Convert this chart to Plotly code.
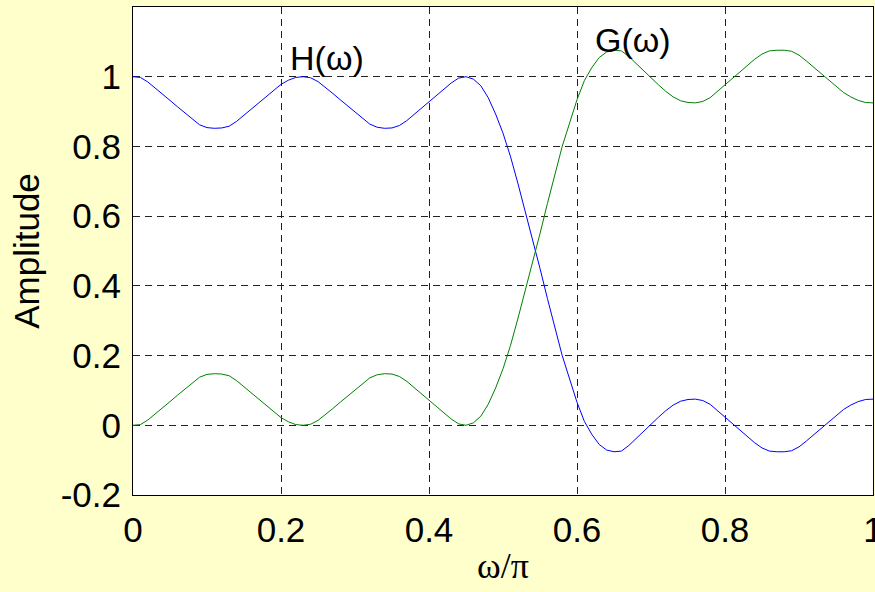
import plotly.graph_objects as go

# frequency axis (omega/pi)
w = [i / 100 for i in range(101)]

# H(omega)
H = [1.000, 0.998, 0.985, 0.968, 0.950, 0.932, 0.914, 0.896, 0.878, 0.862,
     0.854, 0.852, 0.853, 0.858, 0.872, 0.890, 0.908, 0.926, 0.944, 0.962,
     0.978, 0.990, 0.998, 1.000, 0.997, 0.986, 0.970, 0.952, 0.934, 0.916,
     0.898, 0.880, 0.864, 0.855, 0.852, 0.853, 0.860, 0.874, 0.892, 0.910,
     0.928, 0.946, 0.964, 0.982, 0.996, 1.000, 0.993, 0.974, 0.940, 0.893,
     0.838, 0.772, 0.695, 0.616, 0.537, 0.450, 0.364, 0.280, 0.200, 0.133,
     0.066, 0.011, -0.026, -0.055, -0.071, -0.076, -0.074, -0.058, -0.037, -0.016,
     0.004, 0.023, 0.042, 0.058, 0.069, 0.074, 0.075, 0.071, 0.060, 0.042,
     0.024, 0.006, -0.012, -0.031, -0.050, -0.065, -0.074, -0.076, -0.076, -0.073,
     -0.062, -0.045, -0.027, -0.008, 0.011, 0.029, 0.045, 0.058, 0.068, 0.074,
     0.075]

# G(omega)
G = [0.000, 0.002, 0.015, 0.032, 0.050, 0.068, 0.086, 0.104, 0.122, 0.138,
     0.146, 0.148, 0.147, 0.142, 0.128, 0.110, 0.092, 0.074, 0.056, 0.038,
     0.022, 0.010, 0.002, 0.000, 0.003, 0.014, 0.030, 0.048, 0.066, 0.084,
     0.102, 0.120, 0.136, 0.145, 0.148, 0.147, 0.140, 0.126, 0.108, 0.090,
     0.072, 0.054, 0.036, 0.018, 0.004, 0.000, 0.007, 0.026, 0.060, 0.107,
     0.162, 0.228, 0.305, 0.384, 0.463, 0.550, 0.636, 0.720, 0.800, 0.867,
     0.934, 0.989, 1.026, 1.055, 1.071, 1.076, 1.074, 1.058, 1.037, 1.016,
     0.996, 0.977, 0.958, 0.942, 0.931, 0.926, 0.925, 0.929, 0.940, 0.958,
     0.976, 0.994, 1.012, 1.031, 1.050, 1.065, 1.074, 1.076, 1.076, 1.073,
     1.062, 1.045, 1.027, 1.008, 0.989, 0.971, 0.955, 0.942, 0.932, 0.926,
     0.925]

x_ticks = [0, 0.2, 0.4, 0.6, 0.8, 1]
x_labels = ["0", "0.2", "0.4", "0.6", "0.8", "1"]
y_ticks = [-0.2, 0, 0.2, 0.4, 0.6, 0.8, 1]
y_labels = ["-0.2", "0", "0.2", "0.4", "0.6", "0.8", "1"]

fig = go.Figure()
fig.add_trace(go.Scatter(x=w, y=H, mode="lines", line=dict(color="#0000FF", width=1), showlegend=False))
fig.add_trace(go.Scatter(x=w, y=G, mode="lines", line=dict(color="#008000", width=1), showlegend=False))

font = "Arial, Liberation Sans, sans-serif"
fig.add_annotation(x=0.210, y=1.053, text="H(ω)", showarrow=False, xanchor="left", yanchor="middle",
                   font=dict(family=font, size=34, color="black"))
fig.add_annotation(x=0.622, y=1.105, text="G(ω)", showarrow=False, xanchor="left", yanchor="middle",
                   font=dict(family=font, size=34, color="black"))

grid = dict(showgrid=True, gridcolor="#222222", gridwidth=1, griddash="7px,5px",
            showline=True, linecolor="black", linewidth=1, mirror=True, zeroline=False,
            ticks="outside", tickcolor="rgba(0,0,0,0)", ticklabeloverflow="allow",
            automargin=False,
            tickfont=dict(family=font, size=35, color="black"))

fig.update_xaxes(range=[0, 1], tickvals=x_ticks, ticktext=x_labels, ticklen=4,
                 title=dict(text="ω/π", font=dict(family="Times New Roman, Liberation Serif, serif", size=36, color="black"), standoff=4),
                 **grid)
fig.update_yaxes(range=[-0.2, 1.2], tickvals=y_ticks, ticktext=y_labels, ticklen=4,
                 title=dict(text="Amplitude", font=dict(family=font, size=35, color="black"), standoff=10),
                 **grid)

fig.update_layout(width=875, height=592, margin=dict(l=133, r=2, t=7, b=97),
                  paper_bgcolor="#FFFFCC", plot_bgcolor="white")

fig.write_html("out.html")
